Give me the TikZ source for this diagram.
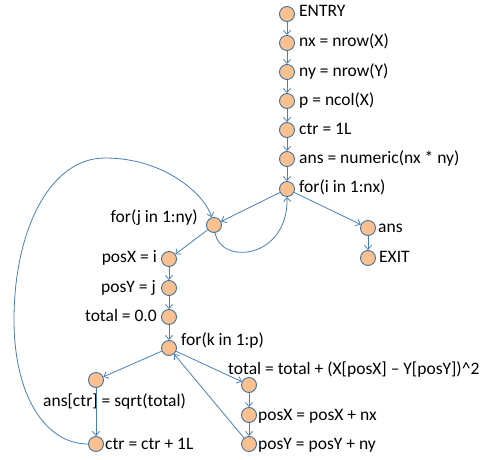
\documentclass[tikz,border=0pt]{standalone}
\usepackage{fontspec}
\setmainfont{Carlito}
\usetikzlibrary{arrows.meta}
\definecolor{nodefill}{HTML}{FAC090}
\definecolor{nodeline}{HTML}{41719C}
\definecolor{edgecol}{HTML}{4A7EBB}
\begin{document}
\begin{tikzpicture}[x=1pt,y=-1pt,
  vtx/.style={circle,draw=nodeline,fill=nodefill,line width=0.9pt,minimum size=15pt,inner sep=0pt},
  edge/.style={draw=edgecol,line width=0.8pt,-{Straight Barb[length=4pt,width=7pt]}},
  lbl/.style={inner sep=0pt,font=\fontsize{17.5}{20}\selectfont}]
\useasboundingbox (0,0) rectangle (487,460);
% vertices
\node[vtx] (entry) at (287,14) {};
\node[vtx] (nx) at (287,43) {};
\node[vtx] (ny) at (287,72) {};
\node[vtx] (p) at (287,101) {};
\node[vtx] (ctr0) at (287,130) {};
\node[vtx] (ansnum) at (287,159) {};
\node[vtx] (fori) at (287,189) {};
\node[vtx] (forj) at (214,225) {};
\node[vtx] (ans) at (368,228) {};
\node[vtx] (exit) at (368,258) {};
\node[vtx] (posx) at (169,259) {};
\node[vtx] (posy) at (169,288) {};
\node[vtx] (total0) at (169,317) {};
\node[vtx] (fork) at (169,348) {};
\node[vtx] (sqrt) at (96,380) {};
\node[vtx] (ctrinc) at (96,444) {};
\node[vtx] (totinc) at (249,385) {};
\node[vtx] (posxinc) at (249,415) {};
\node[vtx] (posyinc) at (249,444) {};
% labels
\node[lbl,anchor=base west] (tentry) at (299,17) {ENTRY};
\node[lbl,anchor=base west] (tnx) at (299,47) {nx = nrow(X)};
\node[lbl,anchor=base west] (tny) at (299,76) {ny = nrow(Y)};
\node[lbl,anchor=base west] (tp) at (299,105) {p = ncol(X)};
\node[lbl,anchor=base west] (tctr0) at (299,134) {ctr = 1L};
\node[lbl,anchor=base west] (tansnum) at (299,163) {ans = numeric(nx * ny)};
\node[lbl,anchor=base west] (tfori) at (299,192) {for(i in 1:nx)};
\node[lbl,anchor=base east] (tforj) at (198,222) {for(j in 1:ny)};
\node[lbl,anchor=base west] (tans) at (378,232) {ans};
\node[lbl,anchor=base west] (texit) at (379,262) {EXIT};
\node[lbl,anchor=base east] (tposx) at (157,262) {posX = i};
\node[lbl,anchor=base east] (tposy) at (156,292) {posY = j};
\node[lbl,anchor=base east] (ttotal0) at (157,321) {total = 0.0};
\node[lbl,anchor=base west] (tfork) at (181,345) {for(k in 1:p)};
\node[lbl,anchor=base west] (ttotinc) at (228,374) {total = total + (X[posX] -- Y[posY])\textasciicircum 2};
\node[lbl,anchor=base west] (tsqrt) at (43,406) {ans[ctr] = sqrt(total)};
\node[lbl,anchor=base west] (tctrinc) at (105,449) {ctr = ctr + 1L};
\node[lbl,anchor=base west] (tposxinc) at (258,420) {posX = posX + nx};
\node[lbl,anchor=base west] (tposyinc) at (258,449) {posY = posY + ny};
% edges
\draw[edge] (entry) -- (nx);
\draw[edge] (nx) -- (ny);
\draw[edge] (ny) -- (p);
\draw[edge] (p) -- (ctr0);
\draw[edge] (ctr0) -- (ansnum);
\draw[edge] (ansnum) -- (fori);
\draw[edge] (fori) -- (forj);
\draw[edge] (fori) -- (ans);
\draw[edge] (ans) -- (exit);
\draw[edge] (forj) .. controls (220,265) and (288,260) .. (fori);
\draw[edge] (forj) -- (posx);
\draw[edge] (posx) -- (posy);
\draw[edge] (posy) -- (total0);
\draw[edge] (total0) -- (fork);
\draw[edge] (fork) -- (sqrt);
\draw[edge] (fork) -- (totinc);
\draw[edge] (sqrt) -- (ctrinc);
\draw[edge] (totinc) -- (posxinc);
\draw[edge] (posxinc) -- (posyinc);
\draw[edge] (posyinc) -- (fork);
\draw[edge] (ctrinc.west) .. controls (45,444) and (14,395) .. (14,320)
  .. controls (14,230) and (50,158) .. (105,158)
  .. controls (165,158) and (205,195) .. (forj);
\end{tikzpicture}
\end{document}
